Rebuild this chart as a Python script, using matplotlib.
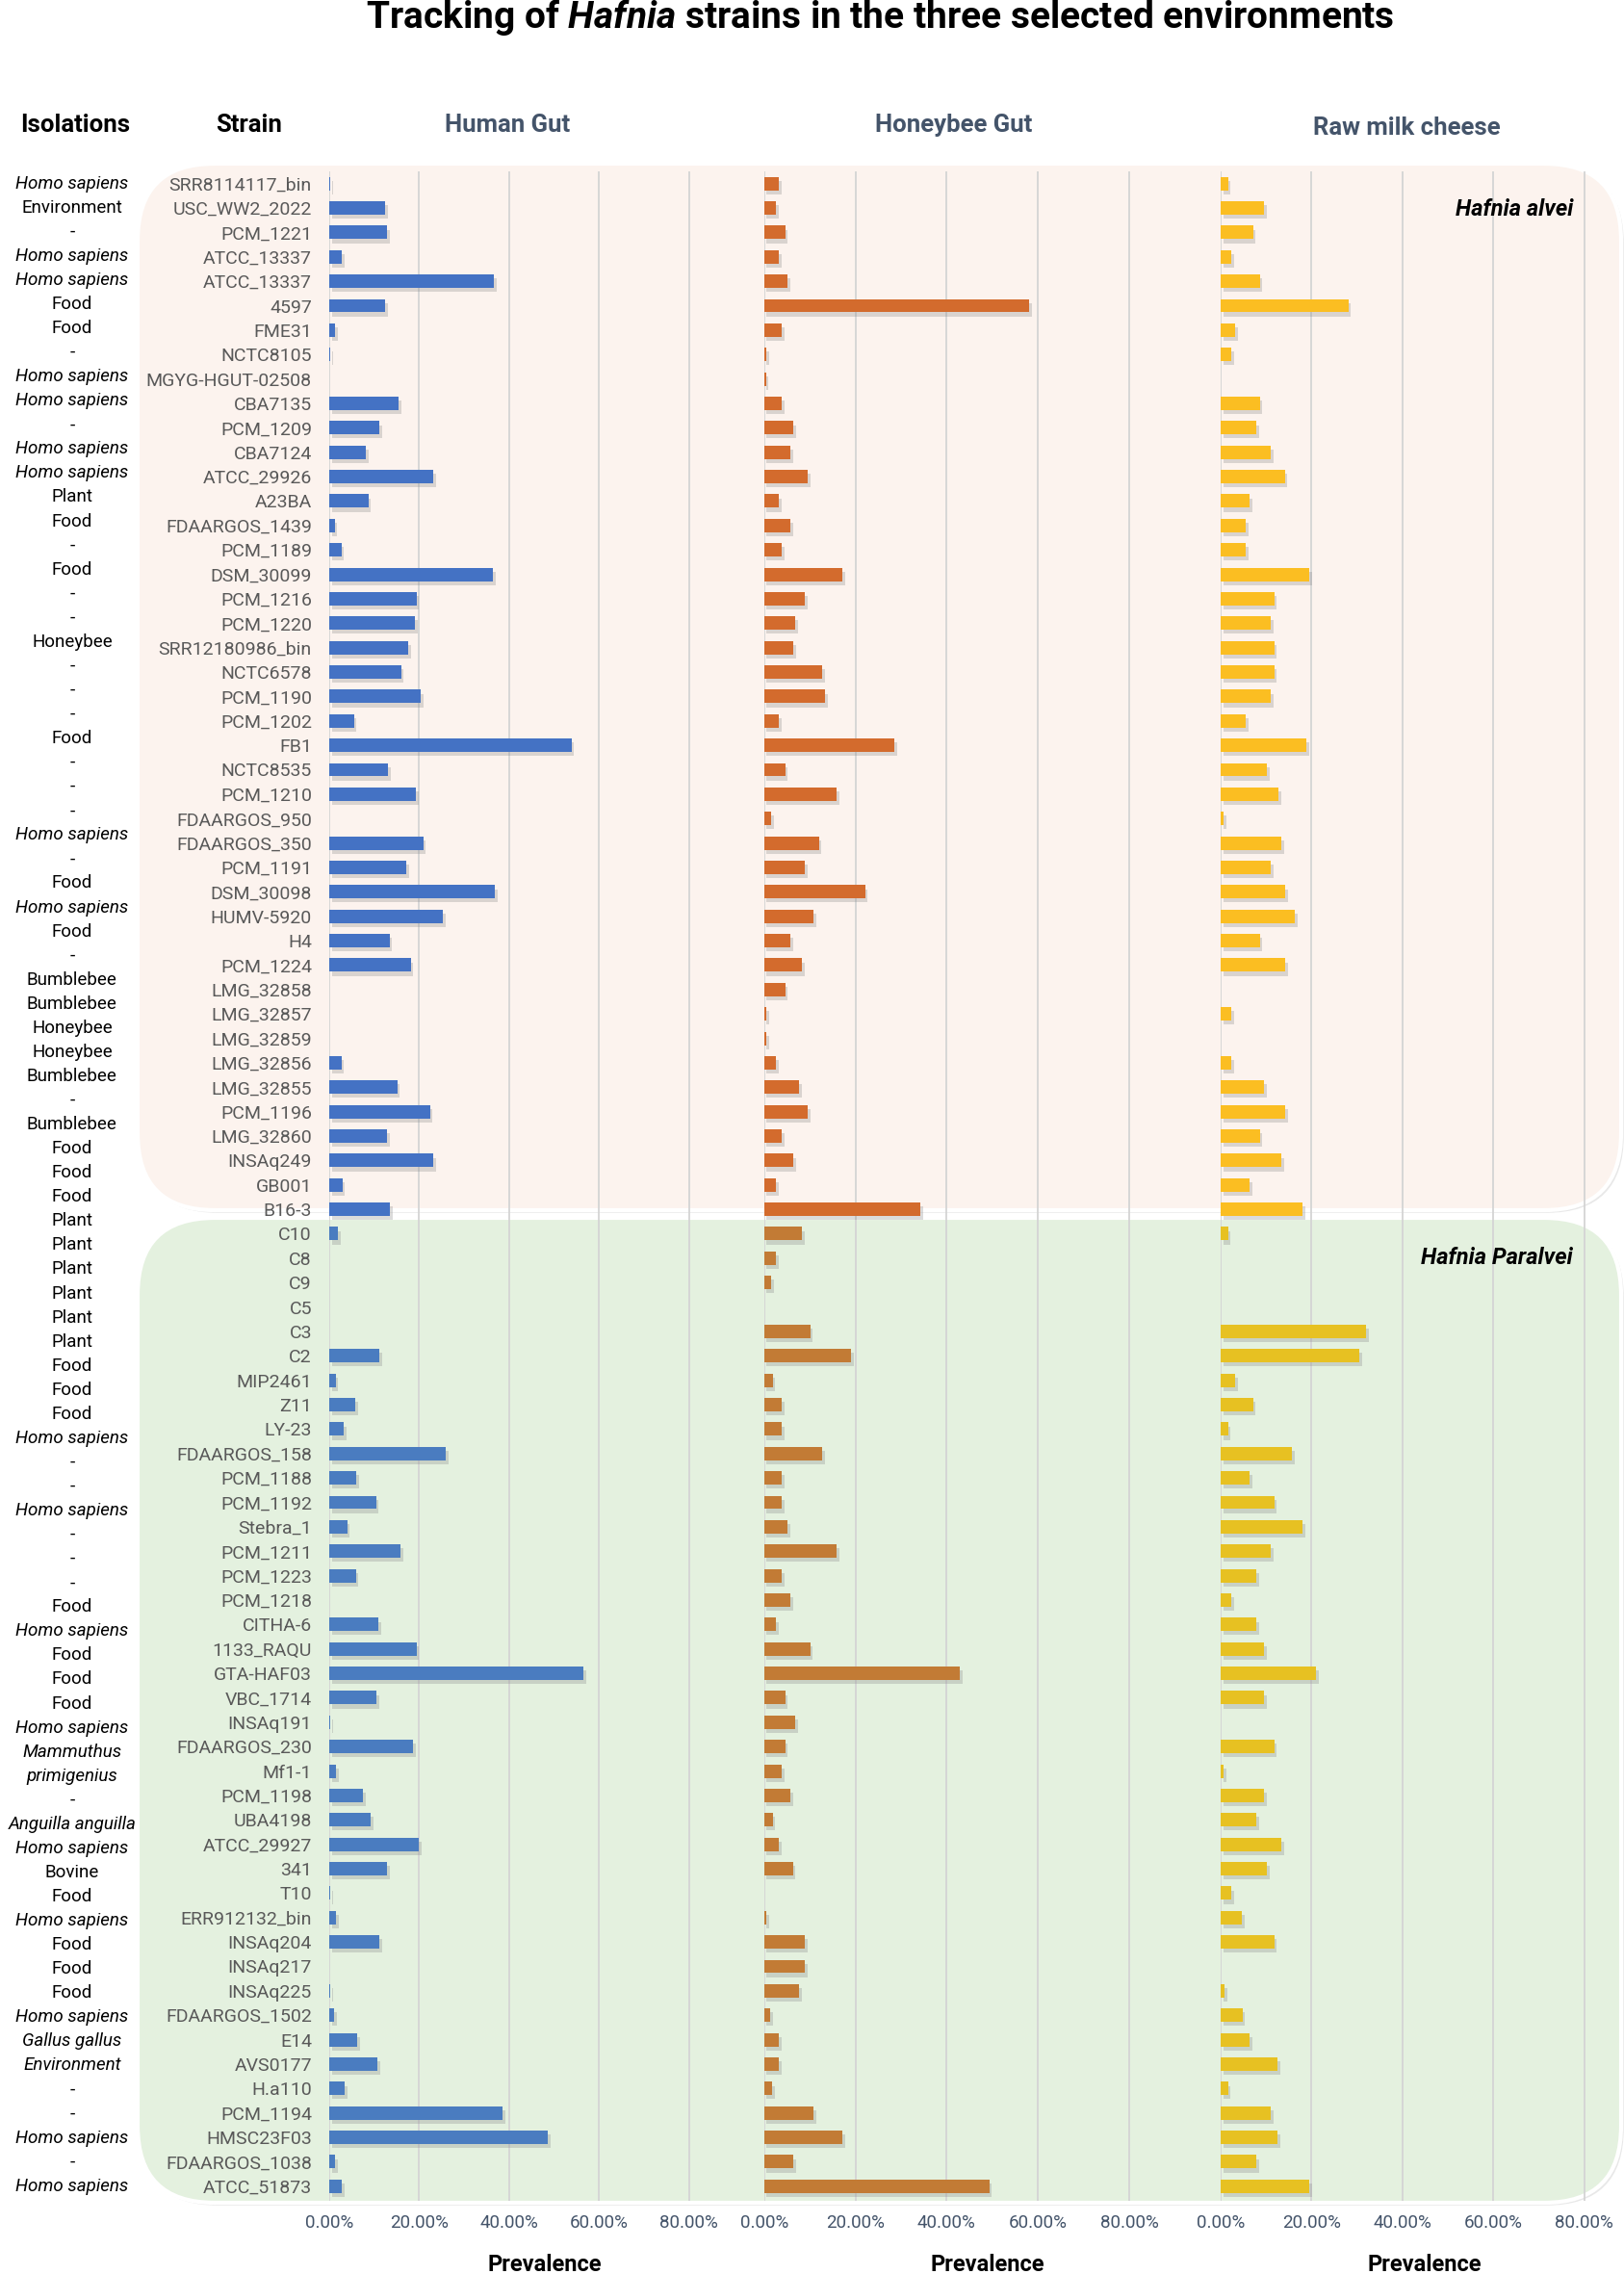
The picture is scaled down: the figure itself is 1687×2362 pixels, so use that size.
import numpy as np
import matplotlib
matplotlib.use("Agg")
import matplotlib.pyplot as plt
from matplotlib.patches import FancyBboxPatch
from matplotlib import patheffects as pe
from matplotlib.ticker import FuncFormatter

plt.rcParams['font.family'] = ['Roboto', 'DejaVu Sans']
plt.rcParams['mathtext.fontset'] = 'custom'
plt.rcParams['mathtext.it'] = 'Roboto:italic:bold'
plt.rcParams['mathtext.rm'] = 'Roboto:bold'

# ---- data (prevalence, %) ----
STRAINS = ["SRR8114117_bin", "USC_WW2_2022", "PCM_1221", "ATCC_13337", "ATCC_13337", "4597", "FME31",
           "NCTC8105", "MGYG-HGUT-02508", "CBA7135", "PCM_1209", "CBA7124", "ATCC_29926", "A23BA",
           "FDAARGOS_1439", "PCM_1189", "DSM_30099", "PCM_1216", "PCM_1220", "SRR12180986_bin",
           "NCTC6578", "PCM_1190", "PCM_1202", "FB1", "NCTC8535", "PCM_1210", "FDAARGOS_950",
           "FDAARGOS_350", "PCM_1191", "DSM_30098", "HUMV-5920", "H4", "PCM_1224", "LMG_32858",
           "LMG_32857", "LMG_32859", "LMG_32856", "LMG_32855", "PCM_1196", "LMG_32860", "INSAq249",
           "GB001", "B16-3",
           "C10", "C8", "C9", "C5", "C3", "C2", "MIP2461", "Z11", "LY-23", "FDAARGOS_158", "PCM_1188",
           "PCM_1192", "Stebra_1", "PCM_1211", "PCM_1223", "PCM_1218", "CITHA-6", "1133_RAQU",
           "GTA-HAF03", "VBC_1714", "INSAq191", "FDAARGOS_230", "Mf1-1", "PCM_1198", "UBA4198",
           "ATCC_29927", "341", "T10", "ERR912132_bin", "INSAq204", "INSAq217", "INSAq225",
           "FDAARGOS_1502", "E14", "AVS0177", "H.a110", "PCM_1194", "HMSC23F03", "FDAARGOS_1038",
           "ATCC_51873"]
ISOLATIONS = ["Homo sapiens", "Environment", "-", "Homo sapiens", "Homo sapiens", "Food", "Food", "-",
              "Homo sapiens", "Homo sapiens", "-", "Homo sapiens", "Homo sapiens", "Plant", "Food", "-",
              "Food", "-", "-", "Honeybee", "-", "-", "-", "Food", "-", "-", "-", "Homo sapiens", "-",
              "Food", "Homo sapiens", "Food", "-", "Bumblebee", "Bumblebee", "Honeybee", "Honeybee",
              "Bumblebee", "-", "Bumblebee", "Food", "Food", "Food",
              "Plant", "Plant", "Plant", "Plant", "Plant", "Plant", "Food", "Food", "Food",
              "Homo sapiens", "-", "-", "Homo sapiens", "-", "-", "-", "Food", "Homo sapiens", "Food",
              "Food", "Food", "Homo sapiens", "Mammuthus\nprimigenius", "-", "Anguilla anguilla",
              "Homo sapiens", "Bovine", "Food", "Homo sapiens", "Food", "Food", "Food", "Homo sapiens",
              "Gallus gallus", "Environment", "-", "-", "Homo sapiens", "-", "Homo sapiens"]
ITALIC_NAMES = ["Homo sapiens", "Mammuthus\nprimigenius", "Anguilla anguilla", "Gallus gallus"]
ITALIC_ROWS = [77]   # second "Environment" is set in italics

HUMAN = [0.3, 12.5, 12.9, 2.8, 36.6, 12.5, 1.3, 0.2, 0, 15.5, 11.2, 8.1, 23.1, 8.7, 1.2, 2.7, 36.4,
         19.4, 19.1, 17.6, 16.0, 20.4, 5.5, 53.9, 13.1, 19.3, 0.1, 20.9, 17.1, 36.9, 25.3, 13.4, 18.1,
         0, 0, 0, 2.7, 15.1, 22.4, 12.9, 23.1, 2.9, 13.5,
         2.0, 0, 0, 0, 0, 11.1, 1.4, 5.8, 3.3, 25.9, 6.1, 10.4, 4.0, 15.9, 5.9, 0, 10.9, 19.4, 56.6,
         10.5, 0.3, 18.6, 1.5, 7.6, 9.2, 20.0, 12.8, 0.3, 1.6, 11.1, 0, 0.2, 1.1, 6.2, 10.8, 3.4,
         38.6, 48.6, 1.3, 2.8]
HONEYBEE = [3.2, 2.6, 4.6, 3.2, 5.1, 58.1, 3.8, 0.5, 0.4, 3.8, 6.4, 5.7, 9.6, 3.2, 5.7, 3.8, 17.2,
            8.9, 6.9, 6.4, 12.8, 13.3, 3.2, 28.6, 4.6, 15.9, 1.5, 12.0, 8.9, 22.1, 10.8, 5.7, 8.3,
            4.6, 0.5, 0.5, 2.6, 7.7, 9.6, 3.8, 6.4, 2.6, 34.3,
            8.3, 2.6, 1.5, 0, 10.1, 19.1, 1.9, 3.8, 3.8, 12.8, 3.8, 3.8, 5.1, 15.9, 3.8, 5.7, 2.6,
            10.1, 42.9, 4.6, 6.9, 4.6, 3.8, 5.7, 1.9, 3.2, 6.3, 0, 0.5, 8.9, 8.9, 7.7, 1.3, 3.2, 3.2,
            1.8, 10.8, 17.2, 6.4, 49.3]
CHEESE = [1.6, 9.5, 7.1, 2.4, 8.6, 28.1, 3.2, 2.4, 0, 8.6, 7.9, 11.1, 14.1, 6.3, 5.6, 5.6, 19.5,
          11.8, 11.1, 11.8, 11.8, 11.1, 5.5, 18.9, 10.2, 12.7, 0.7, 13.4, 11.1, 14.2, 16.4, 8.6, 14.2,
          0, 2.4, 0, 2.4, 9.5, 14.2, 8.6, 13.4, 6.3, 18.0,
          1.6, 0, 0, 0, 32.0, 30.5, 3.2, 7.1, 1.6, 15.7, 6.3, 11.8, 18.0, 11.1, 7.9, 2.4, 7.9, 9.5,
          21.0, 9.5, 0, 11.8, 0.7, 9.5, 7.9, 13.4, 10.2, 2.4, 4.7, 11.8, 0, 0.8, 4.8, 6.3, 12.6, 1.6,
          11.0, 12.6, 7.9, 19.5]
N_ALVEI = 43
PANELS = ["Human Gut", "Honeybee Gut", "Raw milk cheese"]
SPECIES = ["Hafnia alvei", "Hafnia Paralvei"]

# colours: (alvei, paralvei)
COLS = [("#4472C4", "#4A7CC0"), ("#D36B2D", "#C27B35"), ("#FBBE22", "#E7C122")]
HEAD_COL = "#44546A"

W, H = 1687, 2362
fig = plt.figure(figsize=(W / 100, H / 100), dpi=100)
fig.patch.set_facecolor("white")

def fx(px): return px / W
def fy(py): return 1 - py / H

# species background boxes (display pixels)
for (top, bot, fc) in [(170, 1257, "#FCF3EE"), (1265, 2288, "#E4F1DF")]:
    box = FancyBboxPatch((143, H - bot), 1684 - 143, bot - top,
                         boxstyle="round,pad=0,rounding_size=80", transform=None,
                         facecolor=fc, edgecolor="white", linewidth=3, zorder=-5)
    box.set_path_effects([pe.SimplePatchShadow(offset=(2, -2), shadow_rgbFace="#d9d9d9", alpha=0.6),
                          pe.Normal()])
    fig.patches.append(box)

ax_top, ax_bot = fy(178), fy(2286)
POS = [(342, 401.6), (793.7, 408.0), (1268, 406.0)]
XLAB = [0.558, 0.569, 0.522]
rows = np.arange(len(STRAINS))
axes = []
for k, (vals, (x0, w)) in enumerate(zip([HUMAN, HONEYBEE, CHEESE], POS)):
    ax = fig.add_axes([fx(x0), ax_bot, fx(w), ax_top - ax_bot])
    ax.set_facecolor("none")
    cols = [COLS[k][0] if i < N_ALVEI else COLS[k][1] for i in rows]
    bars = ax.barh(rows, np.array(vals) / 100, height=0.55, color=cols, zorder=3)
    for b in bars:
        b.set_path_effects([pe.SimplePatchShadow(offset=(2, -3), shadow_rgbFace="#8a8a8a", alpha=0.3),
                            pe.Normal()])
    ax.set_xlim(0, 0.86)
    ax.set_ylim(82.6, -0.5)
    ax.set_xticks([0, 0.2, 0.4, 0.6, 0.8])
    ax.xaxis.set_major_formatter(FuncFormatter(lambda v, p: f"{v * 100:.2f}%"))
    ax.grid(axis="x", color="#D4D4D4", linewidth=1.3, zorder=0)
    ax.set_axisbelow(True)
    for s in ax.spines.values():
        s.set_visible(False)
    ax.tick_params(axis="x", length=0, pad=10, labelsize=13.5, labelcolor=HEAD_COL)
    ax.set_xlabel("Prevalence", fontsize=17, fontweight="bold", color="black")
    ax.xaxis.set_label_coords(XLAB[k], -0.026)
    if k == 0:
        ax.set_yticks(rows)
        ax.set_yticklabels(STRAINS)
        ax.tick_params(axis="y", length=0, pad=13, labelsize=14, labelcolor="#595959")
    else:
        ax.set_yticks([])
    axes.append(ax)

# isolation column: its own line spacing (one extra line for the two-line entry)
ax_h = axes[0]
trans = ax_h.get_yaxis_transform()
n_lines = sum(len(s.split("\n")) for s in ISOLATIONS)
step = (len(STRAINS) - 1) / (n_lines - 1)
line = 0
for i, iso in enumerate(ISOLATIONS):
    parts = iso.split("\n")
    italic = iso in ITALIC_NAMES or i in ITALIC_ROWS
    for p in parts:
        ax_h.text(-0.665, line * step, p, transform=trans, ha="center", va="center", fontsize=13.5,
                  style="italic" if italic else "normal", color="black")
        line += 1

# headers
fig.text(fx(78), fy(130), "Isolations", ha="center", va="center", fontsize=18.5, fontweight="bold")
fig.text(fx(259), fy(130), "Strain", ha="center", va="center", fontsize=18.5, fontweight="bold")
for name, x, y in zip(PANELS, [527, 991, 1461], [130, 130, 133]):
    fig.text(fx(x), fy(y), name, ha="center", va="center", fontsize=18.5, fontweight="bold",
             color=HEAD_COL)
for name, y in zip(SPECIES, [217, 1307]):
    fig.text(fx(1634), fy(y), name, ha="right", va="center", fontsize=17, fontweight="bold",
             style="italic")

fig.text(fx(914), fy(18), r"Tracking of $\it{Hafnia}$ strains in the three selected environments",
         ha="center", va="center", fontsize=28, fontweight="bold")

fig.savefig("out.png", dpi=100)
